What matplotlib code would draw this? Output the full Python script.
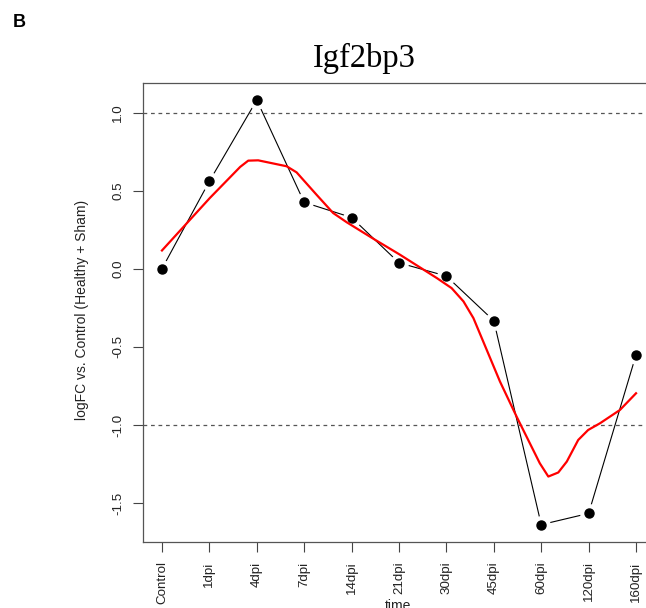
import matplotlib
matplotlib.use('Agg')
import matplotlib.pyplot as plt
import numpy as np

# ---- data ----
categories = ['Control', '1dpi', '4dpi', '7dpi', '14dpi', '21dpi', '30dpi',
              '45dpi', '60dpi', '120dpi', '160dpi']
logfc = [0.0, 0.56, 1.08, 0.425, 0.328, 0.038, -0.047, -0.333, -1.638, -1.566, -0.551]

# smoothed (red) curve, x in category-index units
smooth_x = [0.0, 1.01, 1.65, 1.82, 2.03, 2.63, 2.84, 3.26, 3.61, 3.90, 4.46, 5.02,
            5.80, 6.11, 6.36, 6.57, 6.85, 7.13, 7.48, 7.76, 7.97, 8.15, 8.36, 8.54,
            8.78, 8.99, 9.24, 9.66, 10.0]
smooth_y = [0.117, 0.453, 0.652, 0.692, 0.694, 0.656, 0.617, 0.474, 0.357, 0.297,
            0.192, 0.09, -0.06, -0.124, -0.209, -0.316, -0.519, -0.722, -0.946,
            -1.117, -1.245, -1.33, -1.304, -1.234, -1.096, -1.032, -0.989, -0.904,
            -0.797]

yticks = [-1.5, -1.0, -0.5, 0.0, 0.5, 1.0]
ytick_labels = ['-1.5', '-1.0', '-0.5', '0.0', '0.5', '1.0']
thresholds = [1.0, -1.0]

title = 'Igf2bp3'
ylabel = 'logFC vs. Control (Healthy + Sham)'
xlabel = 'time'
panel = 'B'

# ---- figure ----
W, H = 646, 608
fig = plt.figure(figsize=(W / 100, H / 100), dpi=100)
plt.rcParams['font.family'] = ['Liberation Sans', 'DejaVu Sans']

left, right, top, bottom = 143, 655, 83, 542
ax = fig.add_axes([left / W, 1 - bottom / H, (right - left) / W, (bottom - top) / H])

x = np.arange(len(categories))
ax.plot(x, logfc, color='black', lw=0.8, zorder=2)
ax.plot(x, logfc, 'o', ms=12.5, color='white', mec='white', zorder=3)
ax.plot(x, logfc, 'o', ms=6.5, color='black', mec='black', zorder=4)
for t in thresholds:
    ax.axhline(t, ls=(0, (3, 3)), color='#555555', lw=0.9, zorder=3.5)
ax.plot(smooth_x, smooth_y, color='red', lw=1.6, zorder=5)

ax.set_xlim(-0.4, 10.4)
ax.set_ylim(-1.749, 1.189)

ax.set_xticks(x)
ax.set_xticklabels(categories, rotation=90, fontsize=9.6, color='#222222')
ax.set_yticks(yticks)
ax.set_yticklabels(ytick_labels, rotation=90, fontsize=9.6, va='center', color='#222222')
ax.tick_params(axis='x', length=7.0, width=0.8, color='#444444', pad=7)
ax.tick_params(axis='y', length=7.0, width=0.8, color='#444444', pad=6.5)

for s in ax.spines.values():
    s.set_color('#555555')
    s.set_linewidth(0.9)

fig.text(364 / W, 1 - 67 / H, title, family='Liberation Serif', fontsize=23.5,
         ha='center', va='baseline')
fig.text(13 / W, 1 - 27 / H, panel, fontsize=13, fontweight='bold',
         ha='left', va='baseline')
fig.text(82 / W, 1 - 310 / H, ylabel, rotation=90, fontsize=10,
         ha='center', va='center', color='#222222')
fig.text(398 / W, 1 - 599 / H, xlabel, fontsize=10, ha='center', va='top',
         color='#222222')

fig.savefig('out.png', dpi=100)
